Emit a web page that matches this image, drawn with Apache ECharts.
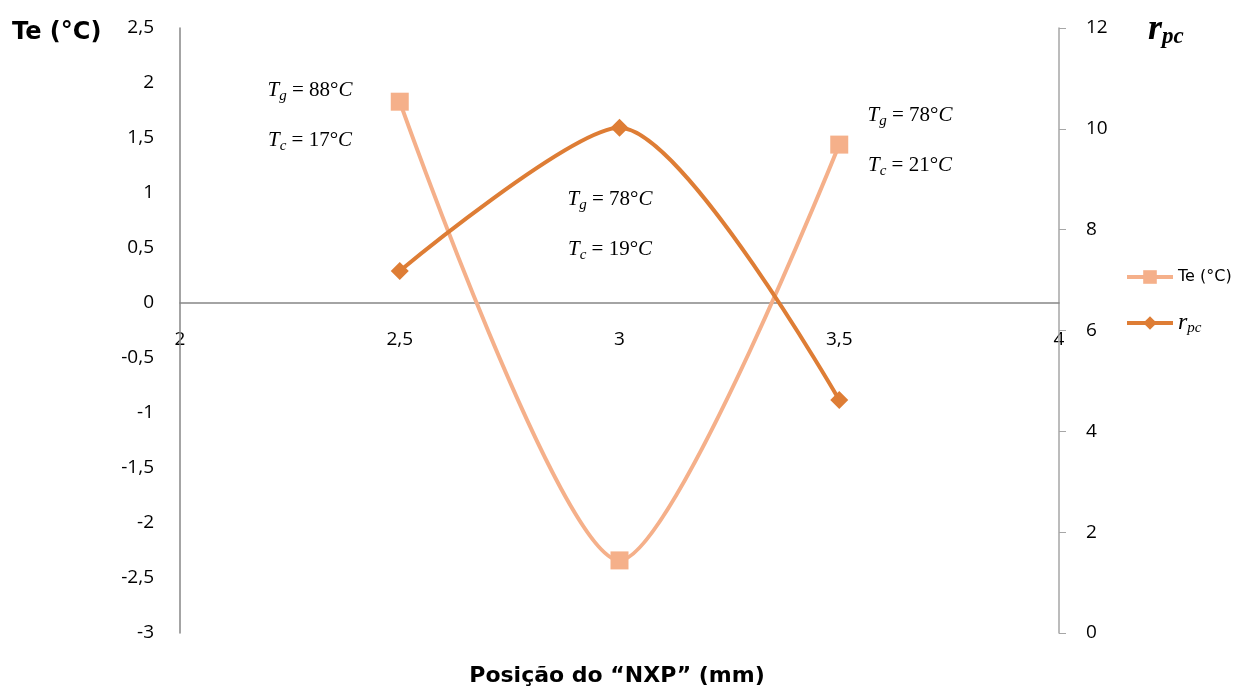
<!DOCTYPE html>
<html>
<head>
<meta charset="utf-8">
<script src="https://cdn.jsdelivr.net/npm/echarts@6/dist/echarts.min.js"></script>
<style>html,body{margin:0;padding:0;background:#fff}#c{width:1235px;height:688px}</style>
</head>
<body>
<div id="c"></div>
<script>
const positions = [2.5, 3, 3.5];
const teValues = [1.83, -2.34, 1.44];
const rpcValues = [7.18, 10.02, 4.62];
const xTicks = [2, 2.5, 3, 3.5, 4];
const tgLabels = ['88', '78', '78'];
const tcLabels = ['17', '19', '21'];

const chart = echarts.init(document.getElementById('c'));
const comma = v => String(v).replace('.', ',');
const sans = 'Open Sans';
const mathRich = {
  i: {fontFamily: 'Liberation Serif', fontStyle: 'italic', fontSize: 21, color: '#000'},
  s: {fontFamily: 'Liberation Serif', fontStyle: 'italic', fontSize: 15, color: '#000', padding: [12, 0, 0, 0]},
  n: {fontFamily: 'Liberation Serif', fontSize: 21, color: '#000'}
};

chart.setOption({
  animation: false,
  backgroundColor: '#fff',
  grid: {left: 180, right: 176, top: 28, bottom: 55},
  legend: {
    orient: 'vertical', left: 1120, top: 264, itemGap: 26,
    itemWidth: 46, itemHeight: 17,
    lineStyle: {width: 4},
    data: ['Te', 'rpc'],
    formatter: n => n === 'Te' ? '{t|Te (°C)}' : '{i|r}{s|pc}',
    textStyle: {
      rich: {
        t: {fontFamily: 'DejaVu Sans', fontSize: 16, color: '#000'},
        i: {fontFamily: 'Liberation Serif', fontStyle: 'italic', fontSize: 24, color: '#000'},
        s: {fontFamily: 'Liberation Serif', fontStyle: 'italic', fontSize: 15, color: '#000', padding: [10, 0, 0, 0]}
      }
    }
  },
  xAxis: {
    type: 'value', min: 2, max: 4, interval: 0.5,
    axisLine: {onZero: true, lineStyle: {color: '#868686', width: 1.5}},
    axisTick: {show: false},
    splitLine: {show: false},
    axisLabel: {show: false}
  },
  yAxis: [{
    type: 'value', min: -3, max: 2.5, interval: 0.5,
    axisLine: {show: true, lineStyle: {color: '#868686', width: 1.5}},
    axisTick: {show: false},
    splitLine: {show: false},
    axisLabel: {formatter: comma, fontFamily: sans, fontSize: 19, color: '#000', margin: 26}
  }, {
    type: 'value', min: 0, max: 12, interval: 2, position: 'right',
    axisLine: {show: true, lineStyle: {color: '#a6a6a6', width: 1.5}},
    axisTick: {show: true, inside: false, length: 7, lineStyle: {color: '#a6a6a6'}},
    splitLine: {show: false},
    axisLabel: {fontFamily: sans, fontSize: 19, color: '#000', margin: 27}
  }],
  series: [{
    name: 'Te', type: 'line', yAxisIndex: 0, smooth: 0.25,
    data: positions.map((x, i) => [x, teValues[i]]),
    symbol: 'rect', symbolSize: 18,
    lineStyle: {color: '#F5B08A', width: 4},
    itemStyle: {color: '#F5B08A'}
  }, {
    name: 'rpc', type: 'line', yAxisIndex: 1, smooth: 0.25,
    data: positions.map((x, i) => [x, rpcValues[i]]),
    symbol: 'diamond', symbolSize: 18,
    lineStyle: {color: '#DE7D35', width: 4},
    itemStyle: {color: '#DE7D35'}
  }]
});

const anchors = [[310, 90], [610, 199], [910, 115]];
const graphics = [
  {type: 'text', left: 12, top: 21, style: {text: 'Te (°C)', font: 'bold 24px "DejaVu Sans"', fill: '#000'}},
  {type: 'text', left: 1148, top: 12, style: {text: '{i|r}{s|pc}', rich: {
    i: {fontFamily: 'Liberation Serif', fontStyle: 'italic', fontWeight: 'bold', fontSize: 36, fill: '#000'},
    s: {fontFamily: 'Liberation Serif', fontStyle: 'italic', fontWeight: 'bold', fontSize: 23, fill: '#000', padding: [14, 0, 0, 0]}
  }}},
  {type: 'text', x: 617, y: 676, style: {text: 'Posição do “NXP” (mm)', font: 'bold 22px "DejaVu Sans"', fill: '#000', align: 'center', verticalAlign: 'middle'}}
];
xTicks.forEach(t => {
  const p = chart.convertToPixel({xAxisIndex: 0, yAxisIndex: 0}, [t, 0]);
  graphics.push({type: 'text', x: p[0], y: p[1] + 37, style: {text: comma(t), font: '19px "Open Sans"', fill: '#000', align: 'center', verticalAlign: 'middle'}});
});
anchors.forEach((a, k) => {
  graphics.push({type: 'text', x: a[0], y: a[1], style: {text: '{i|T}{s|g}{n| = ' + tgLabels[k] + '°}{i|C}', rich: mathRich, align: 'center', verticalAlign: 'middle'}});
  graphics.push({type: 'text', x: a[0], y: a[1] + 50, style: {text: '{i|T}{s|c}{n| = ' + tcLabels[k] + '°}{i|C}', rich: mathRich, align: 'center', verticalAlign: 'middle'}});
});
chart.setOption({graphic: graphics});
</script>
</body>
</html>
